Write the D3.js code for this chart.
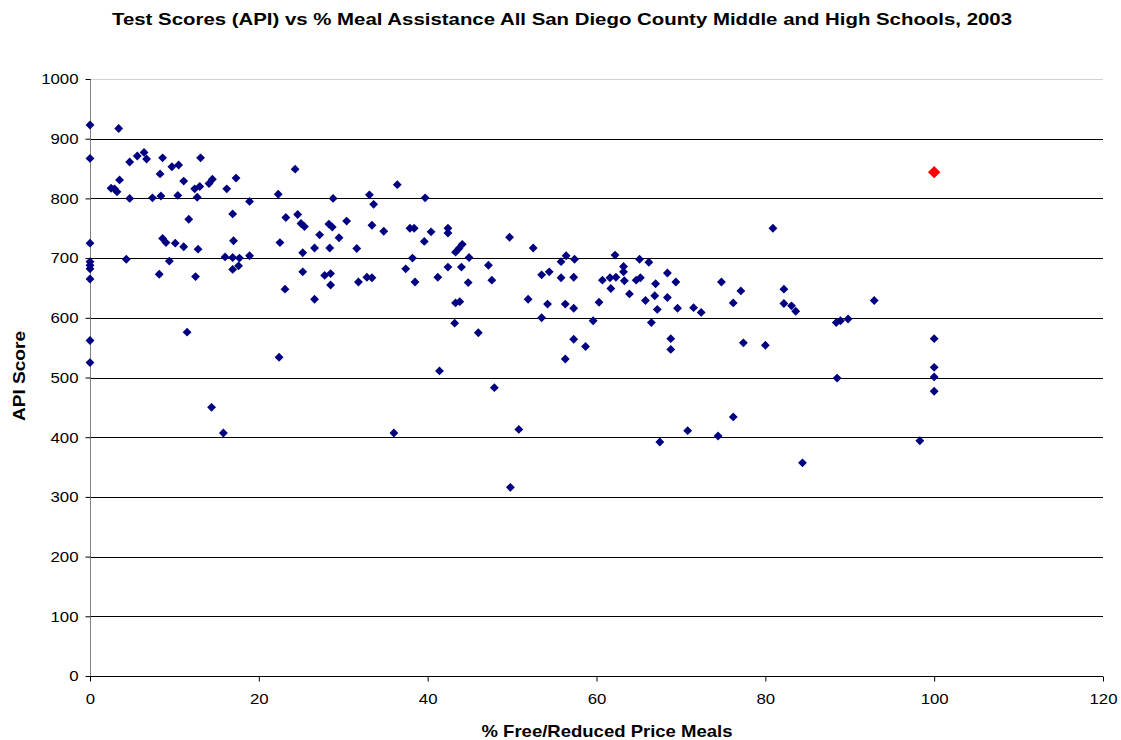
<!DOCTYPE html>
<html>
<head>
<meta charset="utf-8">
<script src="https://cdn.jsdelivr.net/npm/d3@7"></script>
<style>
  html, body { margin: 0; padding: 0; background: #fff; }
  svg { display: block; font-family: "Liberation Sans", Arial, sans-serif; }
</style>
</head>
<body>
<svg id="chart" width="1121" height="740"></svg>
<script>
// % of students receiving free/reduced price meals, per school
const pctFreeMeals = [
  0, 3.4, 0, 4.7, 5.6, 6.4, 6.7, 8.6, 9.7, 10.5, 13.1, 24.3, 8.3, 3.5, 2.5, 2.9, 3.2, 4.7, 7.4, 8.4,
  10.4, 11.1, 12.4, 13.0, 12.7, 14.1, 14.5, 16.2, 17.3, 18.9, 22.3, 28.8, 11.7, 16.9, 23.2, 24.6, 25.0, 25.4, 28.3, 28.7,
  29.5, 27.2, 0, 8.6, 9.0, 10.1, 11.1, 12.8, 17.0, 22.5, 26.6, 25.2, 28.4, 16.0, 16.9, 17.7, 18.9, 4.3, 9.4, 0,
  0, 0, 0, 8.2, 12.5, 16.9, 17.6, 25.2, 27.8, 28.5, 28.5, 23.1, 26.6, 0, 0, 11.5, 22.4, 14.4, 15.8,
  36.4, 33.1, 33.6, 39.7, 30.4, 33.4, 34.8, 37.9, 38.4, 40.4, 39.6, 42.4, 42.4, 31.6, 38.2, 44.1, 43.7, 43.3, 44.9, 49.7,
  52.5, 55.8, 56.4, 57.4, 37.4, 42.4, 44.0, 47.2, 31.8, 32.8, 33.4, 38.5, 41.2, 44.8, 47.6, 53.5, 54.4, 55.8, 57.3, 43.3,
  43.8, 51.9, 54.2, 56.3, 57.3, 53.5, 43.2,
  80.9, 62.2, 65.1, 66.2, 63.2, 63.2, 60.7, 61.6, 62.3, 63.3, 64.7, 65.2, 61.7, 68.4, 67.0, 69.4, 63.9, 66.9, 68.4, 65.8,
  60.3, 67.2, 69.6, 74.8, 77.1, 76.2, 82.2, 82.2, 83.1, 83.6, 71.5, 72.4, 66.5, 59.6, 68.8, 68.8, 77.4, 80.0, 88.4, 88.9,
  89.8, 88.5, 76.2, 70.8, 74.4, 67.5, 84.4, 58.7, 92.9, 100, 100, 100, 100, 98.3, 46.0, 57.3, 56.3, 41.4, 47.9, 50.8,
  36.0, 49.8
];

// API score for the same schools, in the same order
const apiScores = [
  923, 917, 867, 861, 871, 877, 866, 868, 853, 856, 868, 849, 841, 831, 817, 816, 811, 800, 801, 804,
  805, 829, 816, 820, 802, 825, 832, 816, 834, 795, 807, 800, 765, 774, 768, 773, 758, 753, 757, 752,
  734, 739, 725, 733, 726, 725, 719, 715, 729, 726, 717, 709, 717, 702, 701, 700, 704, 698, 695, 694,
  688, 682, 665, 673, 669, 681, 687, 677, 671, 674, 655, 648, 631, 562, 525, 576, 534, 450, 407,
  823, 806, 790, 801, 762, 755, 745, 750, 750, 744, 728, 750, 742, 716, 700, 723, 716, 710, 701, 735,
  717, 694, 704, 698, 682, 685, 685, 688, 660, 668, 667, 660, 668, 659, 663, 672, 677, 667, 668, 625,
  627, 631, 623, 623, 616, 600, 591,
  750, 705, 698, 693, 686, 677, 663, 667, 668, 662, 663, 667, 649, 675, 657, 660, 640, 637, 634, 629,
  626, 614, 616, 660, 645, 625, 648, 624, 620, 611, 617, 609, 592, 595, 565, 547, 558, 554, 592, 595,
  598, 499, 434, 411, 402, 392, 357, 552, 629, 565, 517, 501, 477, 394, 575, 564, 531, 511, 483, 413,
  407, 316
];

// Highlighted school
const highlightPct = [100];
const highlightApi = [844];

const xTicks = [0, 20, 40, 60, 80, 100, 120];
const yTicks = [0, 100, 200, 300, 400, 500, 600, 700, 800, 900, 1000];

const titleText = "Test Scores (API) vs % Meal Assistance All San Diego County Middle and High Schools, 2003";
const xTitle = "% Free/Reduced Price Meals";
const yTitle = "API Score";

const svg = d3.select("#chart");
const margin = { left: 90, right: 18, top: 79, bottom: 64 };
const W = 1121, H = 740;

const x = d3.scaleLinear().domain([0, 120]).range([margin.left, W - margin.right]);
const y = d3.scaleLinear().domain([0, 1000]).range([H - margin.bottom, margin.top]);

// widen text horizontally by a factor, keeping its height
function widen(sel, factor) {
  sel.each(function () {
    const len = this.getComputedTextLength();
    d3.select(this).attr("textLength", len * factor).attr("lengthAdjust", "spacingAndGlyphs");
  });
}

// horizontal gridlines
svg.append("g")
  .selectAll("line")
  .data(yTicks.filter(d => d > 0))
  .join("line")
  .attr("x1", x(0)).attr("x2", x(120))
  .attr("y1", d => Math.round(y(d)) + 0.5).attr("y2", d => Math.round(y(d)) + 0.5)
  .attr("stroke", d => d === 1000 ? "#d0d0d0" : "#000")
  .attr("stroke-width", 1);

// y axis
const yAxis = svg.append("g")
  .attr("transform", `translate(${x(0) + 0.5},0)`)
  .call(d3.axisLeft(y).tickValues(yTicks).tickSize(5).tickPadding(7).tickFormat(d3.format("d")));
yAxis.select(".domain").attr("stroke", "#808080").attr("d", `M0,${y(1000)}V${y(0)}`);
yAxis.selectAll(".tick line").attr("stroke", "#000");
yAxis.selectAll(".tick text").attr("font-size", 15).attr("fill", "#000")
  .attr("font-family", "Liberation Sans, Arial, sans-serif");
widen(yAxis.selectAll(".tick text"), 1.12);

// x axis
const xAxis = svg.append("g")
  .attr("transform", `translate(0,${Math.round(y(0)) + 0.5})`)
  .call(d3.axisBottom(x).tickValues(xTicks).tickSize(5).tickPadding(12).tickFormat(d3.format("d")));
xAxis.select(".domain").attr("stroke", "#000").attr("d", `M${x(0)},0H${x(120)}`);
xAxis.selectAll(".tick line").attr("stroke", "#000");
xAxis.selectAll(".tick text").attr("font-size", 15).attr("fill", "#000")
  .attr("font-family", "Liberation Sans, Arial, sans-serif");
widen(xAxis.selectAll(".tick text"), 1.12);

// diamond markers
const diamond = d3.symbol().type(d3.symbolDiamond2);
const points = pctFreeMeals.map((p, i) => ({ p, v: apiScores[i] }));
svg.append("g")
  .selectAll("path")
  .data(points)
  .join("path")
  .attr("transform", d => `translate(${x(d.p)},${y(d.v)})`)
  .attr("d", diamond.size(50)())
  .attr("fill", "#000080");

const hl = highlightPct.map((p, i) => ({ p, v: highlightApi[i] }));
svg.append("g")
  .selectAll("path")
  .data(hl)
  .join("path")
  .attr("transform", d => `translate(${x(d.p)},${y(d.v)})`)
  .attr("d", diamond.size(98)())
  .attr("fill", "#ff0000");

// titles
svg.append("text")
  .attr("x", 562).attr("y", 25)
  .attr("text-anchor", "middle")
  .attr("font-size", 17).attr("font-weight", "bold")
  .attr("textLength", 900).attr("lengthAdjust", "spacingAndGlyphs")
  .text(titleText);

svg.append("text")
  .attr("x", 607).attr("y", 737)
  .attr("text-anchor", "middle")
  .attr("font-size", 17).attr("font-weight", "bold")
  .attr("textLength", 251).attr("lengthAdjust", "spacingAndGlyphs")
  .text(xTitle);

svg.append("text")
  .attr("transform", `translate(25,376) rotate(-90)`)
  .attr("text-anchor", "middle")
  .attr("font-size", 17).attr("font-weight", "bold")
  .attr("textLength", 90).attr("lengthAdjust", "spacingAndGlyphs")
  .text(yTitle);
</script>
</body>
</html>
